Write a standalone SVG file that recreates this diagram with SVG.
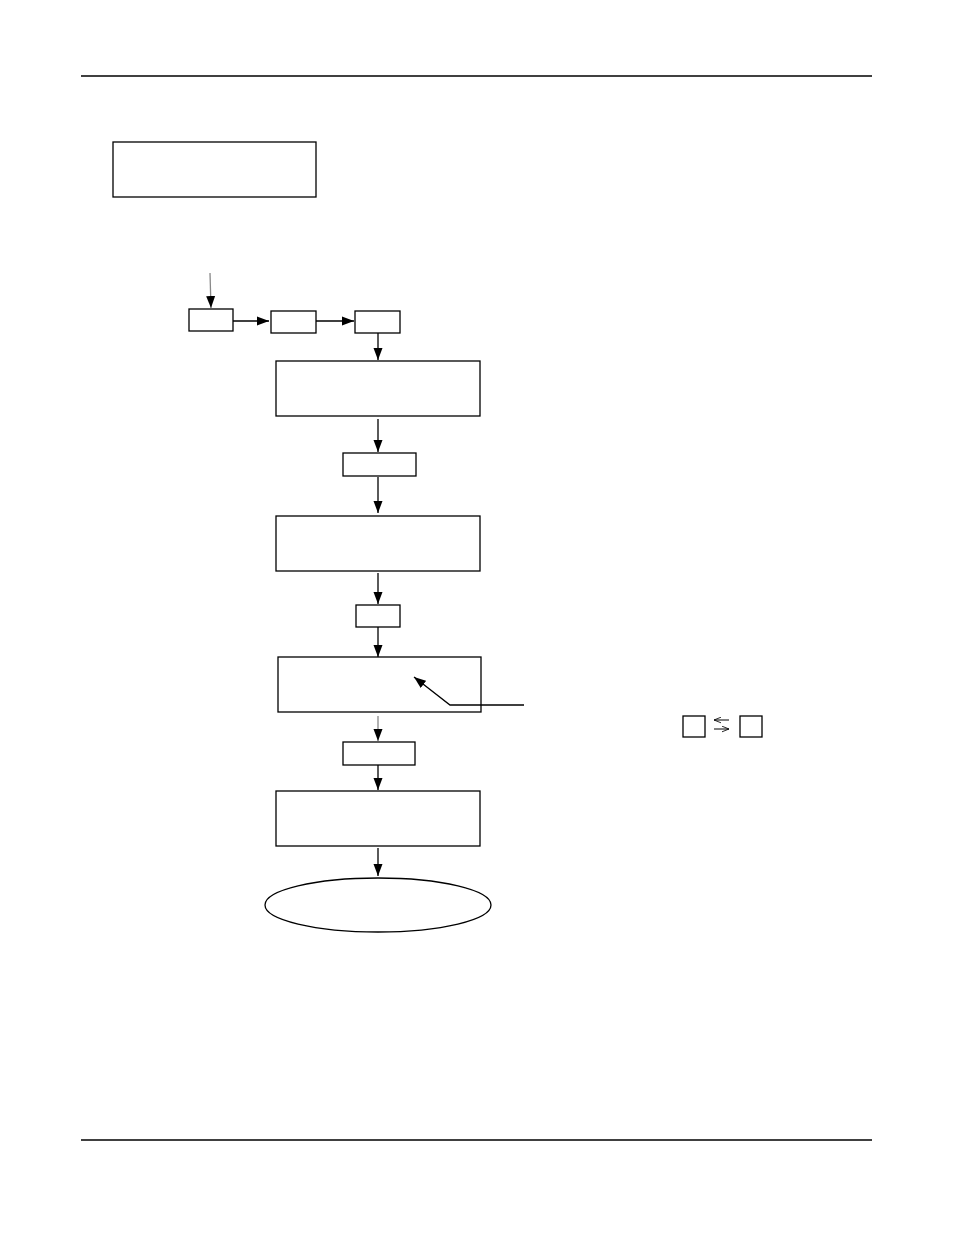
<svg xmlns="http://www.w3.org/2000/svg" width="954" height="1235" viewBox="0 0 954 1235">
<defs>
<style>
.n{fill:#fff;stroke:#000;stroke-width:1.3}
.c{stroke:#000;stroke-width:1.3;fill:none}
.g{stroke:#888;stroke-width:1.3;fill:none}
.t{stroke:#000;stroke-width:1;fill:none}
</style>
<marker id="ah" viewBox="0 0 12 10" refX="12" refY="5" markerWidth="12" markerHeight="10" markerUnits="userSpaceOnUse" orient="auto"><path d="M0,0.5L12,5L0,9.5z" fill="#000"/></marker>
<marker id="oh" viewBox="0 0 10 10" refX="10" refY="5" markerWidth="7" markerHeight="7" markerUnits="userSpaceOnUse" orient="auto"><path d="M0,1L10,5L0,9" fill="none" stroke="#000" stroke-width="1.2"/></marker>
</defs>
<rect width="954" height="1235" fill="#fff"/>
<line x1="81" y1="76" x2="872" y2="76" stroke="#000" stroke-width="1.3"/>
<line x1="81" y1="1140" x2="872" y2="1140" stroke="#000" stroke-width="1.3"/>
<g id="nodeTop"><rect class="n" x="113" y="142" width="203" height="55"/></g>
<g id="nodeA"><rect class="n" x="189" y="309" width="44" height="22"/></g>
<g id="nodeB"><rect class="n" x="271" y="311" width="45" height="22"/></g>
<g id="nodeC"><rect class="n" x="355" y="311" width="45" height="22"/></g>
<g id="nodeD"><rect class="n" x="276" y="361" width="204" height="55"/></g>
<g id="nodeE"><rect class="n" x="343" y="453" width="73" height="23"/></g>
<g id="nodeF"><rect class="n" x="276" y="516" width="204" height="55"/></g>
<g id="nodeG"><rect class="n" x="356" y="605" width="44" height="22"/></g>
<g id="nodeH"><rect class="n" x="278" y="657" width="203" height="55"/></g>
<g id="nodeI"><rect class="n" x="343" y="742" width="72" height="23"/></g>
<g id="nodeJ"><rect class="n" x="276" y="791" width="204" height="55"/></g>
<g id="nodeEnd"><ellipse class="n" cx="378" cy="905" rx="113" ry="27"/></g>
<g id="nodeK1"><rect class="n" x="683" y="716" width="22" height="21"/></g>
<g id="nodeK2"><rect class="n" x="740" y="716" width="22" height="21"/></g>
<g id="connectors">
<line class="g" x1="210" y1="273" x2="211" y2="308" marker-end="url(#ah)"/>
<line class="c" x1="233" y1="321" x2="269" y2="321" marker-end="url(#ah)"/>
<line class="c" x1="316" y1="321" x2="354" y2="321" marker-end="url(#ah)"/>
<line class="c" x1="378" y1="333" x2="378" y2="360" marker-end="url(#ah)"/>
<line class="c" x1="378" y1="419" x2="378" y2="452" marker-end="url(#ah)"/>
<line class="c" x1="378" y1="477" x2="378" y2="513" marker-end="url(#ah)"/>
<line class="c" x1="378" y1="573" x2="378" y2="604" marker-end="url(#ah)"/>
<line class="c" x1="378" y1="627" x2="378" y2="657" marker-end="url(#ah)"/>
<line class="g" x1="378" y1="716" x2="378" y2="741" marker-end="url(#ah)"/>
<line class="c" x1="378" y1="765" x2="378" y2="790" marker-end="url(#ah)"/>
<line class="c" x1="378" y1="848" x2="378" y2="876" marker-end="url(#ah)"/>
<polyline class="c" points="524,705 450,705 414,677" stroke-width="2" marker-end="url(#ah)"/>
<line class="t" x1="729" y1="720" x2="714" y2="720" marker-end="url(#oh)"/>
<line class="t" x1="714" y1="729" x2="729" y2="729" marker-end="url(#oh)"/>
</g>
</svg>
